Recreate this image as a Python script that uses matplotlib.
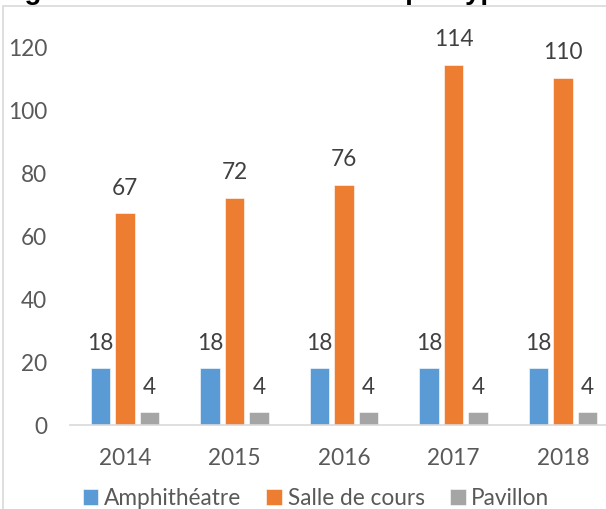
import matplotlib.pyplot as plt
from matplotlib.patches import Rectangle
import numpy as np

annees = ["2014", "2015", "2016", "2017", "2018"]
amphitheatre = [18, 18, 18, 18, 18]
salle_de_cours = [67, 72, 76, 114, 110]
pavillon = [4, 4, 4, 4, 4]

series = [
    ("Amphithéatre", amphitheatre, "#5B9BD5"),
    ("Salle de cours", salle_de_cours, "#ED7D31"),
    ("Pavillon", pavillon, "#A5A5A5"),
]

plt.rcParams['font.family'] = ['Lato', 'DejaVu Sans']
taille = 16.3

W, H = 606, 510
fig = plt.figure(figsize=(W / 100, H / 100), dpi=100)

# cadre gris du graphique
fig.patches.append(Rectangle((3 / W, -0.1), 1.2, 1.1 - 7 / H, transform=fig.transFigure,
                             fill=False, edgecolor="#D9D9D9", linewidth=1.2))

# titre (coupé en haut)
fig.text(0 / W, 1 + 1 / H, "Figure 1 : Evolution des salles par type",
         fontsize=19.9, fontweight='bold', family='Liberation Sans',
         va='baseline', ha='left', color='black')

ax = fig.add_axes([70 / W, 84 / H, 548 / W, 379 / H])
ax.patch.set_visible(False)

x = np.arange(len(annees))
largeur = 0.178
pas = 0.2235
for i, (nom, valeurs, couleur) in enumerate(series):
    pos = x + (i - 1) * pas
    barres = ax.bar(pos, valeurs, width=largeur, color=couleur, label=nom,
                    edgecolor='white', linewidth=0.4)
    for b, v in zip(barres, valeurs):
        ax.annotate(str(v), (b.get_x() + b.get_width() / 2, v),
                    xytext=(0, 18.7), textcoords='offset points',
                    ha='center', va='center', fontsize=taille, color='#404040',
                    annotation_clip=False)

ax.set_xlim(-0.5, len(annees) - 0.5)
ax.set_ylim(0, 120)
ax.set_yticks(range(0, 121, 20))
ax.set_xticks(x)
ax.set_xticklabels(annees)

for s in ['top', 'right', 'left']:
    ax.spines[s].set_visible(False)
ax.spines['bottom'].set_color('#D9D9D9')
ax.spines['bottom'].set_linewidth(1.2)

ax.tick_params(axis='y', length=0, pad=16.5, labelsize=taille, labelcolor='#595959')
ax.tick_params(axis='x', length=0, pad=15.5, labelsize=taille, labelcolor='#595959')

fig.legend(loc='center', bbox_to_anchor=(316 / W, 11 / H), ncol=3, frameon=False,
           fontsize=taille, labelcolor='#595959', handlelength=0.7, handleheight=0.7,
           handletextpad=0.25, columnspacing=1.1)

fig.savefig("out.png", dpi=100)
